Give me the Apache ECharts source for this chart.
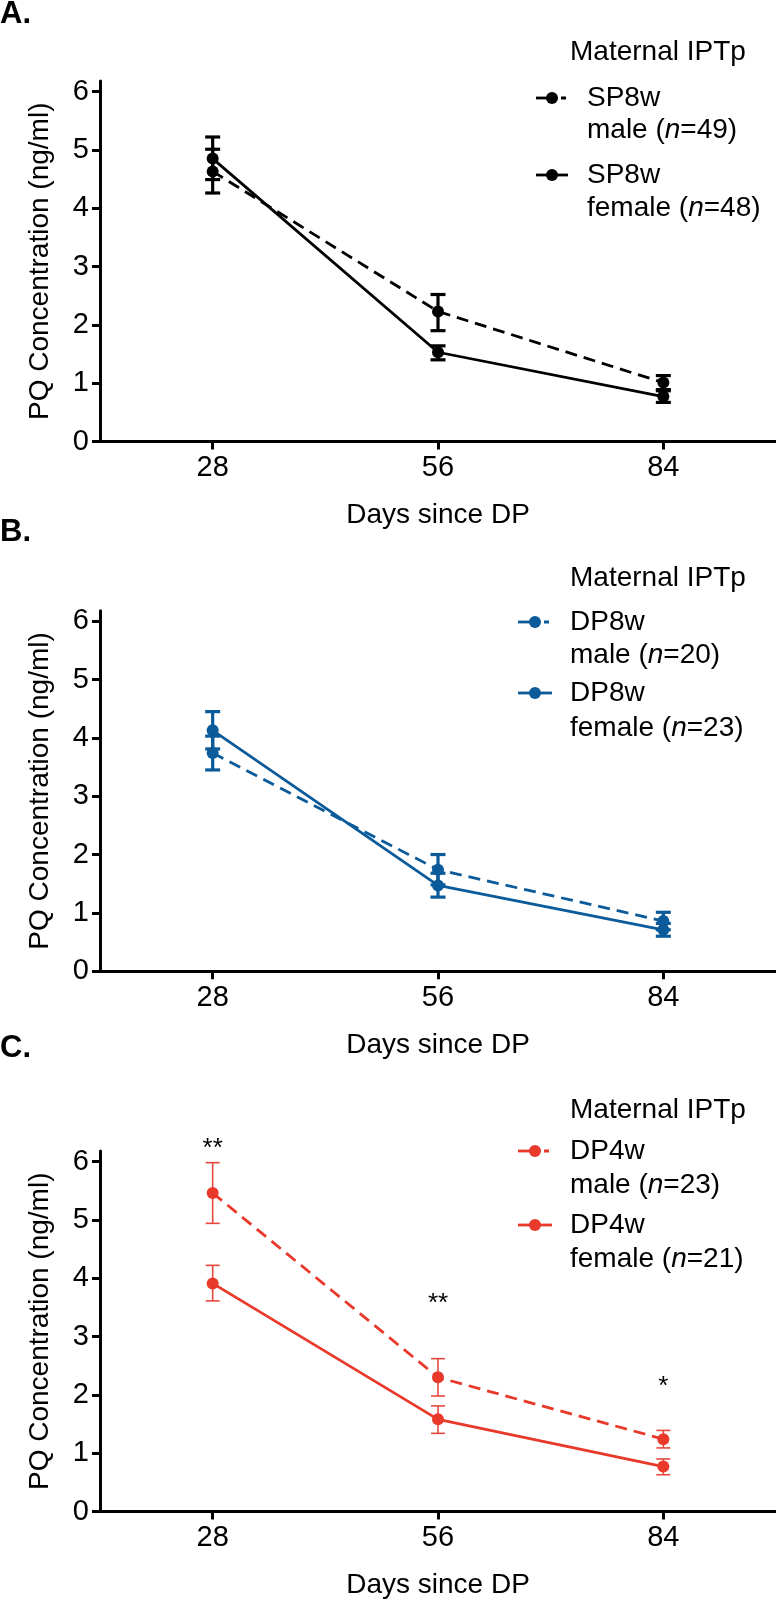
<!DOCTYPE html>
<html>
<head>
<meta charset="utf-8">
<title>PQ Concentration</title>
<script src="https://cdn.jsdelivr.net/npm/echarts@6.0.0/dist/echarts.min.js"></script>
<style>
  html, body { margin: 0; padding: 0; background: #fff; }
  #chart { width: 776px; height: 1602px; }
</style>
</head>
<body>
<div id="chart"></div>
<script>
// days since DP (x axis)
const days = [28, 56, 84]
const yTicks = [0, 1, 2, 3, 4, 5, 6]

// A. SP8w
const spMale = [4.63, 2.23, 1.01]
const spMaleLo = [4.26, 1.90, 0.89]
const spMaleHi = [5.01, 2.52, 1.13]
const spFemale = [4.85, 1.53, 0.77]
const spFemaleLo = [4.49, 1.40, 0.67]
const spFemaleHi = [5.22, 1.64, 0.87]

// B. DP8w
const dp8Male = [3.74, 1.74, 0.86]
const dp8MaleLo = [3.45, 1.48, 0.71]
const dp8MaleHi = [4.03, 2.00, 1.01]
const dp8Female = [4.13, 1.47, 0.71]
const dp8FemaleLo = [3.81, 1.27, 0.60]
const dp8FemaleHi = [4.45, 1.68, 0.82]

// C. DP4w
const dp4Male = [5.46, 2.30, 1.24]
const dp4MaleLo = [4.94, 1.98, 1.09]
const dp4MaleHi = [5.98, 2.62, 1.39]
const dp4Female = [3.91, 1.58, 0.77]
const dp4FemaleLo = [3.61, 1.34, 0.63]
const dp4FemaleHi = [4.22, 1.81, 0.90]

// significance marks for panel C
const stars = ['**', '**', '*']
const starY = [6.22, 3.56, 2.14]

const FONT = '"Liberation Sans", Arial, Helvetica, sans-serif'
const BLACK = '#000000'
const BLUE = '#0b5a9a'
const RED = '#e8392b'
const RED_BAR = '#e5493d'

const gridTops = [81, 610.7, 1151]
const gridH = 360.5

function pairs(vals) {
  return days.map((d, i) => [d, vals[i]])
}

function lineSeries(idx, vals, color, dashed) {
  return {
    type: 'line',
    xAxisIndex: idx,
    yAxisIndex: idx,
    data: pairs(vals),
    symbol: 'circle',
    symbolSize: 12,
    z: 4,
    itemStyle: { color: color },
    lineStyle: { color: color, width: 2.8, type: dashed ? [12, 7] : 'solid' },
    animation: false
  }
}

function errorSeries(idx, lo, hi, color, width, cap) {
  return {
    type: 'custom',
    xAxisIndex: idx,
    yAxisIndex: idx,
    data: days.map((d, i) => [d, lo[i], hi[i]]),
    encode: { x: 0, y: [1, 2] },
    z: 3,
    animation: false,
    renderItem: function (params, api) {
      const x = api.value(0)
      const p1 = api.coord([x, api.value(1)])
      const p2 = api.coord([x, api.value(2)])
      const h = cap / 2
      const st = { stroke: color, lineWidth: width }
      return {
        type: 'group',
        children: [
          { type: 'line', shape: { x1: p1[0], y1: p1[1], x2: p2[0], y2: p2[1] }, style: st },
          { type: 'line', shape: { x1: p1[0] - h, y1: p1[1], x2: p1[0] + h, y2: p1[1] }, style: st },
          { type: 'line', shape: { x1: p2[0] - h, y1: p2[1], x2: p2[0] + h, y2: p2[1] }, style: st }
        ]
      }
    }
  }
}

function starSeries(idx) {
  return {
    type: 'custom',
    xAxisIndex: idx,
    yAxisIndex: idx,
    data: days.map((d, i) => [d, starY[i], stars[i]]),
    encode: { x: 0, y: 1 },
    animation: false,
    renderItem: function (params, api) {
      const p = api.coord([api.value(0), api.value(1)])
      return {
        type: 'text',
        x: p[0],
        y: p[1],
        style: {
          text: stars[params.dataIndex],
          font: '26px ' + FONT,
          fill: BLACK,
          align: 'center',
          verticalAlign: 'middle'
        }
      }
    }
  }
}

const grids = gridTops.map(t => ({ left: 100, top: t, width: 676, height: gridH }))

const xAxes = gridTops.map((t, i) => ({
  type: 'value',
  gridIndex: i,
  min: 14,
  max: 98,
  name: 'Days since DP',
  nameLocation: 'middle',
  nameGap: 60,
  nameTextStyle: { fontFamily: FONT, fontSize: 28, color: BLACK },
  splitLine: { show: false },
  axisLine: { lineStyle: { color: BLACK, width: 3 } },
  axisTick: { customValues: days, length: 8, lineStyle: { color: BLACK, width: 3 } },
  axisLabel: { customValues: days, margin: 12, fontFamily: FONT, fontSize: 29, color: BLACK }
}))

const yAxes = gridTops.map((t, i) => ({
  type: 'value',
  gridIndex: i,
  min: 0,
  max: 6.18,
  name: 'PQ Concentration (ng/ml)',
  nameLocation: 'middle',
  nameRotate: 90,
  nameGap: 46,
  nameTextStyle: { fontFamily: FONT, fontSize: 28, color: BLACK },
  splitLine: { show: false },
  axisLine: { show: true, lineStyle: { color: BLACK, width: 3 } },
  axisTick: { show: true, customValues: yTicks, length: 8, lineStyle: { color: BLACK, width: 3 } },
  axisLabel: { customValues: yTicks, margin: 11, fontFamily: FONT, fontSize: 29, color: BLACK }
}))

// legend drawn by hand: symbol sits next to first text line
function legend(cfg) {
  const els = []
  const txt = (x, y, rich) => ({
    type: 'text',
    x: x,
    y: y,
    style: {
      text: rich,
      font: '28px ' + FONT,
      fill: BLACK,
      verticalAlign: 'middle',
      rich: {
        a: { fontFamily: FONT, fontSize: 28, fill: BLACK },
        i: { fontFamily: FONT, fontSize: 28, fontStyle: 'italic', fill: BLACK }
      }
    }
  })
  els.push(txt(570, cfg.titleY, '{a|Maternal IPTp}'))
  cfg.items.forEach(it => {
    const mid = (cfg.symX0 + cfg.symX1) / 2
    els.push({
      type: 'line',
      shape: { x1: cfg.symX0, y1: it.y1, x2: mid, y2: it.y1 },
      style: { stroke: cfg.color, lineWidth: 2.8 }
    })
    els.push({
      type: 'line',
      shape: { x1: mid, y1: it.y1, x2: cfg.symX1, y2: it.y1 },
      style: { stroke: cfg.color, lineWidth: 2.8, lineDash: it.dashed ? [5, 4] : null }
    })
    els.push({
      type: 'circle',
      shape: { cx: mid, cy: it.y1, r: 6 },
      style: { fill: cfg.color }
    })
    els.push(txt(cfg.textX, it.y1, '{a|' + cfg.group + '}'))
    els.push(txt(cfg.textX, it.y2, '{a|' + it.sex + ' (}{i|n}{a|=' + it.n + ')}'))
  })
  return els
}

const panelLabel = (txt, y) => ({
  type: 'text',
  x: 0,
  y: y,
  style: { text: txt, font: 'bold 31px ' + FONT, fill: BLACK, verticalAlign: 'middle' }
})

const graphic = [
  panelLabel('A.', 14),
  panelLabel('B.', 532),
  panelLabel('C.', 1048)
]
  .concat(legend({
    titleY: 52, color: BLACK, group: 'SP8w', symX0: 536, symX1: 568, textX: 587,
    items: [
      { y1: 98, y2: 130, sex: 'male', n: 49, dashed: true },
      { y1: 175, y2: 208, sex: 'female', n: 48, dashed: false }
    ]
  }))
  .concat(legend({
    titleY: 578, color: BLUE, group: 'DP8w', symX0: 518, symX1: 552, textX: 570,
    items: [
      { y1: 622, y2: 655, sex: 'male', n: 20, dashed: true },
      { y1: 693, y2: 728, sex: 'female', n: 23, dashed: false }
    ]
  }))
  .concat(legend({
    titleY: 1110, color: RED, group: 'DP4w', symX0: 518, symX1: 552, textX: 570,
    items: [
      { y1: 1151, y2: 1185, sex: 'male', n: 23, dashed: true },
      { y1: 1225, y2: 1259, sex: 'female', n: 21, dashed: false }
    ]
  }))

const option = {
  backgroundColor: '#ffffff',
  animation: false,
  grid: grids,
  xAxis: xAxes,
  yAxis: yAxes,
  graphic: graphic,
  series: [
    errorSeries(0, spMaleLo, spMaleHi, BLACK, 3.2, 15),
    errorSeries(0, spFemaleLo, spFemaleHi, BLACK, 3.2, 15),
    lineSeries(0, spMale, BLACK, true),
    lineSeries(0, spFemale, BLACK, false),

    errorSeries(1, dp8MaleLo, dp8MaleHi, BLUE, 3.2, 15),
    errorSeries(1, dp8FemaleLo, dp8FemaleHi, BLUE, 3.2, 15),
    lineSeries(1, dp8Male, BLUE, true),
    lineSeries(1, dp8Female, BLUE, false),

    errorSeries(2, dp4MaleLo, dp4MaleHi, RED_BAR, 1.6, 14),
    errorSeries(2, dp4FemaleLo, dp4FemaleHi, RED_BAR, 1.6, 14),
    lineSeries(2, dp4Male, RED, true),
    lineSeries(2, dp4Female, RED, false),
    starSeries(2)
  ]
}

const chart = echarts.init(document.getElementById('chart'), null, { renderer: 'canvas' })
chart.setOption(option)
</script>
</body>
</html>
